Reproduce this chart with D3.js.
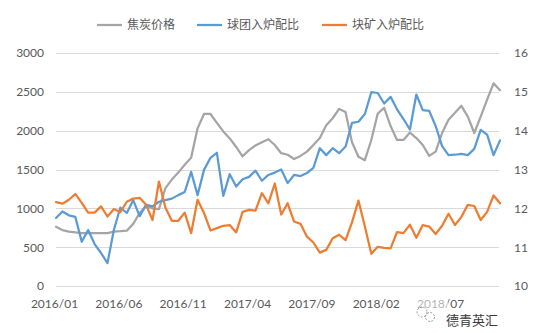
<!DOCTYPE html>
<html>
<head>
<meta charset="utf-8">
<script src="https://cdn.jsdelivr.net/npm/d3@7"></script>
<style>
  html, body { margin: 0; padding: 0; background: #ffffff; }
  svg { display: block; }
  text { font-family: "Lato", "Liberation Sans", "Noto Sans CJK SC", sans-serif; }
</style>
</head>
<body>
<svg id="chart" width="545" height="333"></svg>
<script>
// ---- data ----
const periods = [
  "2016/01-1","2016/01-2","2016/02-1","2016/02-2","2016/03-1","2016/03-2","2016/04-1","2016/04-2","2016/05-1","2016/05-2",
  "2016/06-1","2016/06-2","2016/07-1","2016/07-2","2016/08-1","2016/08-2","2016/09-1","2016/09-2","2016/10-1","2016/10-2",
  "2016/11-1","2016/11-2","2016/12-1","2016/12-2","2017/01-1","2017/01-2","2017/02-1","2017/02-2","2017/03-1","2017/03-2",
  "2017/04-1","2017/04-2","2017/05-1","2017/05-2","2017/06-1","2017/06-2","2017/07-1","2017/07-2","2017/08-1","2017/08-2",
  "2017/09-1","2017/09-2","2017/10-1","2017/10-2","2017/11-1","2017/11-2","2017/12-1","2017/12-2","2018/01-1","2018/01-2",
  "2018/02-1","2018/02-2","2018/03-1","2018/03-2","2018/04-1","2018/04-2","2018/05-1","2018/05-2","2018/06-1","2018/06-2",
  "2018/07-1","2018/07-2","2018/08-1","2018/08-2","2018/09-1","2018/09-2","2018/10-1","2018/10-2","2018/11-1","2018/11-2"
];
const tickLabels = ["2016/01","2016/06","2016/11","2017/04","2017/09","2018/02","2018/07"];
const leftTicks = [0, 500, 1000, 1500, 2000, 2500, 3000];
const rightTicks = [10, 11, 12, 13, 14, 15, 16];

// 焦炭价格 (left axis)
const cokePrice = [
  763,720,700,690,680,680,680,680,680,700,
  705,712,800,940,1030,1000,990,1260,1370,1460,
  1560,1650,2030,2215,2215,2100,1990,1900,1790,1670,
  1750,1810,1850,1890,1815,1710,1690,1635,1675,1730,
  1815,1905,2070,2160,2280,2240,1850,1665,1620,1880,
  2220,2295,2060,1880,1880,1975,1905,1815,1675,1730,
  1970,2140,2230,2320,2180,1970,2180,2400,2610,2520
];
// 球团入炉配比 (right axis)
const pelletRatio = [
  11.75,11.92,11.82,11.78,11.14,11.44,11.08,10.85,10.59,11.45,
  12.02,11.88,12.21,11.80,12.09,12.05,12.17,12.21,12.25,12.34,
  12.42,12.94,12.34,12.99,13.30,13.43,12.32,12.88,12.56,12.75,
  12.81,12.97,12.71,12.86,12.92,13.00,12.65,12.86,12.83,12.91,
  13.04,13.55,13.37,13.55,13.42,13.59,14.20,14.23,14.43,14.99,
  14.97,14.70,14.87,14.55,14.30,14.03,14.93,14.53,14.51,14.12,
  13.60,13.37,13.38,13.40,13.37,13.53,14.02,13.90,13.37,13.75
];
// 块矿入炉配比 (right axis)
const lumpRatio = [
  12.16,12.12,12.22,12.37,12.14,11.89,11.89,12.05,11.79,11.98,
  11.90,12.17,12.25,12.27,12.09,11.70,12.69,12.02,11.68,11.68,
  11.89,11.36,12.22,11.88,11.43,11.49,11.55,11.57,11.38,11.91,
  11.96,11.94,12.39,12.13,12.64,11.84,12.13,11.66,11.60,11.27,
  11.12,10.86,10.93,11.23,11.32,11.18,11.64,12.20,11.53,10.83,
  11.01,10.98,10.97,11.39,11.36,11.58,11.24,11.57,11.53,11.34,
  11.55,11.86,11.57,11.78,12.09,12.06,11.70,11.91,12.33,12.13
];
const seriesNames = ["焦炭价格", "球团入炉配比", "块矿入炉配比"];
const seriesColors = ["#A5A5A5", "#5B9BD5", "#ED7D31"];

// ---- chart ----
const svg = d3.select("#chart");
const plotLeft = 56, plotRight = 500, plotTop = 53, plotBottom = 286;
const textColor = "#595959";
const axisFont = "Lato, 'Liberation Sans', sans-serif";

const x = d3.scalePoint().domain(periods).range([plotLeft, plotRight]);
const yL = d3.scaleLinear().domain([0, 3000]).range([plotBottom, plotTop]);
const yR = d3.scaleLinear().domain([10, 16]).range([plotBottom, plotTop]);

// gridlines
svg.append("g").selectAll("line").data(leftTicks).join("line")
  .attr("x1", plotLeft).attr("x2", plotRight - 1)
  .attr("y1", d => Math.round(yL(d)) + 0.5).attr("y2", d => Math.round(yL(d)) + 0.5)
  .attr("stroke", "#d9d9d9").attr("stroke-width", 1);

// left axis
const gL = svg.append("g").attr("transform", `translate(${plotLeft - 12},0)`)
  .call(d3.axisLeft(yL).tickValues(leftTicks).tickFormat(d3.format("d")).tickSize(0).tickPadding(0));
gL.select(".domain").remove();
gL.selectAll("text").attr("fill", textColor).style("font-size", "12px").style("font-family", axisFont);

// right axis
const gR = svg.append("g").attr("transform", `translate(${plotRight + 14},0)`)
  .call(d3.axisRight(yR).tickValues(rightTicks).tickFormat(d3.format("d")).tickSize(0).tickPadding(0));
gR.select(".domain").remove();
gR.selectAll("text").attr("fill", textColor).style("font-size", "12px").style("font-family", axisFont);

// bottom axis
const gB = svg.append("g").attr("transform", `translate(-2,${plotBottom + 13})`)
  .call(d3.axisBottom(x).tickValues(tickLabels.map(t => t + "-1")).tickFormat(d => d.slice(0, 7)).tickSize(0).tickPadding(0));
gB.select(".domain").remove();
gB.selectAll("text").attr("fill", textColor).style("font-size", "12px").style("font-family", axisFont);

// lines
const lineL = d3.line().x((d, i) => x(periods[i])).y(d => yL(d));
const lineR = d3.line().x((d, i) => x(periods[i])).y(d => yR(d));
const lines = [
  { data: cokePrice, gen: lineL, color: seriesColors[0] },
  { data: pelletRatio, gen: lineR, color: seriesColors[1] },
  { data: lumpRatio, gen: lineR, color: seriesColors[2] }
];
svg.append("g").selectAll("path").data(lines).join("path")
  .attr("d", d => d.gen(d.data))
  .attr("fill", "none")
  .attr("stroke", d => d.color)
  .attr("stroke-width", 2.25)
  .attr("stroke-linejoin", "round")
  .attr("stroke-linecap", "round");

// legend
const legendX = [97, 197, 322];
const lg = svg.append("g").selectAll("g").data(seriesNames).join("g")
  .attr("transform", (d, i) => `translate(${legendX[i]},25)`);
lg.append("line").attr("x1", 0).attr("x2", 25).attr("y1", 0).attr("y2", 0)
  .attr("stroke", (d, i) => seriesColors[i]).attr("stroke-width", 2.25);
lg.append("text").attr("x", 30).attr("y", 0).attr("dy", "0.35em")
  .attr("fill", textColor).style("font-size", "12px")
  .style("font-family", "'Noto Sans CJK SC', sans-serif")
  .text(d => d);

// watermark (sits just below the last date label)
const wm = svg.append("g");
wm.append("rect").attr("x", 414).attr("y", 300).attr("width", 34).attr("height", 24)
  .attr("fill", "#ffffff").attr("opacity", 0.55);
wm.append("circle").attr("cx", 422).attr("cy", 312).attr("r", 5)
  .attr("fill", "none").attr("stroke", "#9a9a9a").attr("stroke-width", 1).attr("stroke-dasharray", "2,1.5");
wm.append("circle").attr("cx", 430).attr("cy", 317).attr("r", 4.5)
  .attr("fill", "#ffffff").attr("stroke", "#9a9a9a").attr("stroke-width", 1).attr("stroke-dasharray", "2,1.5");
wm.append("text").attr("x", 446).attr("y", 320).attr("dy", "0.35em")
  .attr("fill", "#3a3a3a").style("font-size", "13px")
  .style("font-family", "'Noto Sans CJK SC', sans-serif")
  .text("德青英汇");
</script>
</body>
</html>
